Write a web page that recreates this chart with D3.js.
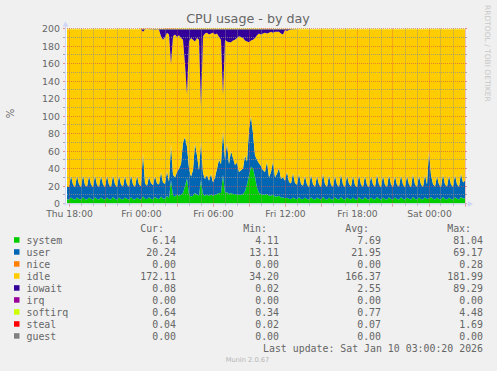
<!DOCTYPE html>
<html>
<head>
<meta charset="utf-8">
<script src="https://cdn.jsdelivr.net/npm/d3@7"></script>
<style>
  body { margin: 0; background: #f0f0f0; }
  svg { display: block; }
</style>
</head>
<body>
<div id="chart"></div>
<script>
// 10 minute samples, Thu Jan 8 2026 17:50 -> Sat Jan 10 03:00 (200 points)
const startTime = new Date(2026, 0, 8, 17, 50);
const stepMinutes = 10;

const system = [
  4.8,4.5,7.0,5.2,4.4,6.8, 5.1,4.5,7.2,5.0,4.6,6.9, 5.3,4.4,7.1,5.1,4.5,7.0,
  5.2,4.6,6.8,5.0,4.5,7.3, 5.2,4.4,7.0,5.1,4.6,6.9, 5.3,4.5,7.1,5.0,4.6,7.0,
  5.2,4.7,8.0,5.4,4.8,7.2, 5.5,5.0,7.5,5.6,5.2,8.0, 5.8,5.5,8.5,6.0,
  27,9,8,10,9,10, 12,20,29,10,8,9, 12,10,9,27,10,9, 10,9,10,9,10,11,
  12,12,33,12,13,11, 12,11,11,10,10,10, 11,14,22,32,42,40, 30,18,12,11,10,10,
  11,9,9,10,8,8, 9,7,7,6,
  6.5,5.5,5.0,7.0,5.4,5.0,7.2,5.2,4.8,
  7.0,5.2,4.5, 7.2,5.1,4.6, 6.9,5.3,4.5, 7.4,5.2,4.4, 7.0,5.0,4.6, 7.1,5.2,4.5,
  7.3,5.1,4.5, 6.9,5.3,4.6, 7.0,5.0,4.4, 7.2,5.2,4.5, 7.1,5.1,4.6, 6.8,5.2,4.5,
  7.3,5.3,4.4, 7.0,5.0,4.6, 7.2,5.2,4.5, 6.9,5.1,4.6, 7.1,5.2,4.5, 7.0,5.3,4.4,
  7.4,5.1,4.6, 7.0,5.2,4.5, 7.1,5.0,6.0, 7.2,5.3,4.6, 6.9,5.2,4.5, 7.3,5.1,4.6,
  7.0,5.2,4.5, 7.2,5.3,4.6, 7.5,5.6,6.1
];

const user = [
  14.2,14.5,25.0,16.5,14.6,24.5, 16.8,14.3,25.5,16.2,14.8,24.8, 16.6,14.5,25.2,16.4,14.7,24.6,
  16.9,14.4,25.3,16.3,14.6,24.9, 16.7,14.5,25.1,16.5,14.8,24.7, 16.4,14.6,25.4,16.8,14.5,24.8,
  16.6,15.0,50.0,17.5,15.5,23.5, 17.8,16.0,24.0,17.5,16.5,28.0, 18.0,17.0,28.5,19.0,
  41,24,22,26,31,35, 58,56,36,30,23,29, 57,45,29,44,25,19, 23,17,24,15,20,29,
  38,33,51,38,56,34, 48,41,33,37,26,28, 29,41,26,53,58,40, 25,32,34,32,28,26,
  37,21,27,38,22,26, 32,21,23,20,
  30,19,18,28,18,16.5,27,17,15.5,
  25.0,16.5,14.5, 26.0,16.8,14.6, 24.5,16.4,14.4, 27.0,16.7,14.7, 25.5,16.3,14.5, 24.8,16.6,14.6,
  26.5,16.5,14.3, 25.2,16.9,14.8, 24.6,16.2,14.5, 25.8,16.6,14.6, 25.0,16.4,14.4, 24.7,16.7,14.7,
  26.2,16.5,14.5, 25.1,16.3,14.6, 25.6,16.8,14.4, 24.9,16.4,14.7, 25.3,16.6,14.5, 24.8,16.5,14.6,
  26.4,16.7,14.5, 25.0,16.4,14.6, 25.4,16.6,55.0, 25.2,17.0,14.8, 24.6,16.5,14.5, 26.0,16.6,14.7,
  25.1,16.4,14.6, 25.7,16.8,14.5, 27.0,18.5,20.2
];

const idle = [
  180.1,180.1,167.1,177.4,180.1,167.8, 177.2,180.3,166.4,177.9,179.7,167.4, 177.2,180.2,166.8,177.6,179.9,167.5,
  177.0,180.1,167.0,177.8,180.0,166.9, 177.2,180.2,167.0,177.5,179.7,167.5, 177.4,180.0,166.6,177.3,180.0,167.3,
  177.3,179.4,138.2,176.1,178.8,168.2, 175.7,177.9,167.2,175.7,176.9,155.2, 163.4,167.7,158.2,168.2,
  91.2,158.2,163.2,154.2,152.2,144.2, 117.2,83.2,59.2,145.2,158.2,149.2, 116.2,134.2,149.2,39.2,156.2,166.2,
  162.2,167.2,160.2,171.2,163.2,154.2, 140.2,142.2,39.2,137.2,116.2,139.2, 124.2,134.2,143.2,142.2,155.2,152.2,
  149.2,131.2,137.2,99.2,86.2,107.2, 134.2,142.2,148.2,150.2,156.2,159.2, 146.2,165.2,160.2,147.2,166.2,162.2,
  155.2,166.2,163.2,172.2,
  160.7,173.7,175.7,163.9,175.6,177.6,164.9,176.9,178.8,
  167.1,177.4,180.1, 165.9,177.2,179.9, 167.7,177.4,180.2, 164.7,177.2,180.0, 166.6,177.8,180.0, 167.2,177.3,180.0,
  165.3,177.5,180.3, 167.0,176.9,179.7, 167.5,177.9,180.2, 166.1,177.3,180.0, 167.0,177.6,180.1, 167.6,177.2,179.9,
  165.6,177.3,180.2, 167.0,177.8,179.9, 166.3,177.1,180.2, 167.3,177.6,179.8, 166.7,177.3,180.1, 167.3,177.3,180.1,
  165.3,177.3,180.0, 167.1,177.5,180.0, 166.6,177.5,138.1, 166.7,176.8,179.7, 167.6,177.4,180.1, 165.8,177.4,179.8,
  167.0,177.5,180.0, 166.2,177.0,180.0, 164.6,175.0,172.8
];

const iowait = [
  0.1,0.1,0.1,0.1,0.1,0.1, 0.1,0.1,0.1,0.1,0.1,0.1, 0.1,0.1,0.1,0.1,0.1,0.1,
  0.1,0.1,0.1,0.1,0.1,0.1, 0.1,0.1,0.1,0.1,0.1,0.1, 0.1,0.1,0.1,0.1,0.1,0.1,
  0.1,0.1,3,0.2,0.1,0.3, 0.2,0.3,0.5,0.4,0.6,8, 12,9,4,6,
  40,8,6,9,7,10, 12,40,75,14,10,12, 14,10,12,89,8,5, 4,6,5,4,6,5,
  9,12,76,12,14,15, 15,13,12,10,8,9, 10,13,14,15,13,12, 10,7,5,6,5,4,
  5,4,3,4,3,3, 3,5,6,1,
  2,1,0.5,0.3,0.2,0.1,0.1,0.1,0.1,
  0.1,0.1,0.1, 0.1,0.1,0.1, 0.1,0.1,0.1, 0.1,0.1,0.1, 0.1,0.1,0.1, 0.1,0.1,0.1,
  0.1,0.1,0.1, 0.1,0.1,0.1, 0.1,0.1,0.1, 0.1,0.1,0.1, 0.1,0.1,0.1, 0.1,0.1,0.1,
  0.1,0.1,0.1, 0.1,0.1,0.1, 0.1,0.1,0.1, 0.1,0.1,0.1, 0.1,0.1,0.1, 0.1,0.1,0.1,
  0.1,0.1,0.1, 0.1,0.1,0.1, 0.1,0.1,0.1, 0.1,0.1,0.1, 0.1,0.1,0.1, 0.1,0.1,0.1,
  0.1,0.1,0.1, 0.1,0.1,0.1, 0.1,0.1,0.1
];

// hourly samples, Thu 17:00 -> Sat 03:00
const hourStart = new Date(2026, 0, 8, 17, 0);
const softirq = [
  0.7,0.7,0.6,0.7,0.6,0.7,0.6,
  0.8,0.7,1.2,2.5,3.0,2.8,2.2,2.6,1.8,1.5,0.9,0.8,0.7,0.7,0.6,0.7,0.6,0.7,0.6,0.7,0.6,0.6,0.7,0.6,
  0.7,0.6,0.7,0.6
];
const steal = [
  0.3,0.2,0.05,0.05,0.05,0.1,0.05,
  0.2,0.05,0.1,0.3,0.4,0.3,0.3,0.2,0.2,0.1,0.05,0.05,0.05,0.05,0.05,0.05,0.05,0.05,0.05,0.05,0.05,0.05,0.05,0.05,
  0.05,0.05,0.05,0.04
];

const legendNames = ["system", "user", "nice", "idle", "iowait", "irq", "softirq", "steal", "guest"];
const legendColors = ["#00CC00", "#0066B3", "#FF8000", "#FFCC00", "#330099", "#990099", "#CCFF00", "#FF0000", "#808080"];
const curValues = [6.14, 20.24, 0.00, 172.11, 0.08, 0.00, 0.64, 0.04, 0.00];
const minValues = [4.11, 13.11, 0.00, 34.20, 0.02, 0.00, 0.34, 0.02, 0.00];
const avgValues = [7.69, 21.95, 0.00, 166.37, 2.55, 0.00, 0.77, 0.07, 0.00];
const maxValues = [81.04, 69.17, 0.28, 181.99, 89.29, 0.00, 4.48, 1.69, 0.00];

const yTicks = [0, 20, 40, 60, 80, 100, 120, 140, 160, 180, 200];
const yMinor = [10, 30, 50, 70, 90, 110, 130, 150, 170, 190];

const width = 497, height = 371;
const plotLeft = 65, plotRight = 465, plotTop = 28.5, plotBottom = 203.5;
const fontSans = "'DejaVu Sans', sans-serif";
const fontMono = "'DejaVu Sans Mono', monospace";
const textColor = "#666666";
const axisColor = "#CFD6F8";
const gridColor = "rgba(143,143,143,0.75)";
const mgridColor = "rgba(222,79,79,0.6)";

const svg = d3.select("#chart").append("svg")
    .attr("width", width)
    .attr("height", height);

svg.append("rect").attr("width", width).attr("height", height).attr("fill", "#F0F0F0");

const x = d3.scaleTime()
    .domain([new Date(2026, 0, 8, 17, 40), new Date(2026, 0, 10, 3, 0)])
    .range([plotLeft, plotRight]);
const y = d3.scaleLinear().domain([0, 200]).range([plotBottom, plotTop]);
// snap a grid coordinate to a pixel centre
const px = v => Math.round(v - 0.5) + 0.5;

// one table row per sample, hourly series looked up by hour
const rows = system.map(function (s, i) {
    const t = d3.timeMinute.offset(startTime, i * stepMinutes);
    const h = d3.timeHour.count(hourStart, t);
    return {t: t, system: s, user: user[i], idle: idle[i], iowait: iowait[i],
            softirq: softirq[h], steal: steal[h]};
});
const keys = ["system", "user", "idle", "iowait", "softirq", "steal"];
const colorOf = {};
legendNames.forEach((n, i) => colorOf[n] = legendColors[i]);
const series = d3.stack().keys(keys)(rows);

svg.append("defs").append("clipPath").attr("id", "plot")
    .append("rect").attr("x", plotLeft).attr("y", plotTop)
    .attr("width", plotRight - plotLeft).attr("height", plotBottom - plotTop);

svg.append("rect").attr("x", plotLeft).attr("y", plotTop)
    .attr("width", plotRight - plotLeft).attr("height", plotBottom - plotTop).attr("fill", "#fff");

const area = d3.area()
    .x(d => x(d.data.t))
    .y0(d => y(d[0]))
    .y1(d => y(d[1]));

svg.append("g").attr("clip-path", "url(#plot)")
    .selectAll("path")
    .data(series)
    .enter().append("path")
    .attr("d", area)
    .attr("fill", d => colorOf[d.key]);

// grid
const grid = svg.append("g").attr("stroke-width", 1);
const hours = x.ticks(d3.timeHour.every(1));
const majorHours = x.ticks(d3.timeHour.every(3)).map(d => +d);

grid.selectAll(".vgrid")
    .data(hours)
    .enter().append("line")
    .attr("x1", d => px(x(d))).attr("x2", d => px(x(d)))
    .attr("y1", plotTop).attr("y2", plotBottom)
    .attr("stroke", d => majorHours.includes(+d) ? mgridColor : gridColor)
    .attr("stroke-dasharray", "1,1");

grid.selectAll(".hgrid")
    .data(yMinor.concat(yTicks.slice(1)))
    .enter().append("line")
    .attr("x1", plotLeft).attr("x2", plotRight)
    .attr("y1", d => px(y(d))).attr("y2", d => px(y(d)))
    .attr("stroke", d => d % 20 === 0 ? mgridColor : gridColor)
    .attr("stroke-dasharray", "1,1");

// small ticks outside the plot
grid.selectAll(".ytick")
    .data(yMinor.concat(yTicks))
    .enter().append("path")
    .attr("d", d => `M${plotLeft - 2},${px(y(d))}H${plotLeft}M${plotRight},${px(y(d))}H${plotRight + 2}`)
    .attr("stroke", d => d % 20 === 0 ? mgridColor : gridColor);

grid.selectAll(".xtick")
    .data(hours)
    .enter().append("line")
    .attr("x1", d => px(x(d))).attr("x2", d => px(x(d)))
    .attr("y1", plotBottom).attr("y2", d => majorHours.includes(+d) ? plotBottom + 3 : plotBottom + 2)
    .attr("stroke", d => majorHours.includes(+d) ? mgridColor : gridColor);

// axes with arrows
svg.append("line").attr("x1", plotLeft - 2).attr("x2", plotRight + 4)
    .attr("y1", plotBottom + 0.5).attr("y2", plotBottom + 0.5)
    .attr("stroke", axisColor);
svg.append("line").attr("x1", plotLeft + 0.5).attr("x2", plotLeft + 0.5)
    .attr("y1", plotBottom + 2).attr("y2", plotTop - 3)
    .attr("stroke", axisColor);
svg.append("path")
    .attr("d", `M${plotRight + 3},${plotBottom - 2.5}L${plotRight + 8},${plotBottom + 0.5}L${plotRight + 3},${plotBottom + 3.5}Z`)
    .attr("fill", axisColor);
svg.append("path")
    .attr("d", `M${plotLeft - 2.5},${plotTop - 2}L${plotLeft + 0.5},${plotTop - 7}L${plotLeft + 3.5},${plotTop - 2}Z`)
    .attr("fill", axisColor);

// axis labels
const yAxis = svg.append("g")
    .attr("transform", `translate(${plotLeft},0)`)
    .call(d3.axisLeft(y).tickValues(yTicks).tickSize(0).tickPadding(5));
yAxis.select(".domain").remove();
yAxis.selectAll("text").attr("font-family", fontSans).attr("font-size", "9.4px").attr("fill", textColor);

const xAxis = svg.append("g")
    .attr("transform", `translate(0,${plotBottom})`)
    .call(d3.axisBottom(x).ticks(d3.timeHour.every(6)).tickFormat(d3.timeFormat("%a %H:%M")).tickSize(0).tickPadding(6.5));
xAxis.select(".domain").remove();
xAxis.selectAll("text").attr("font-family", fontSans).attr("font-size", "9.2px").attr("fill", textColor);

svg.append("text")
    .attr("x", 248).attr("y", 23.3)
    .attr("text-anchor", "middle")
    .attr("font-family", fontSans).attr("font-size", "12.7px").attr("fill", textColor)
    .text("CPU usage - by day");

svg.append("text")
    .attr("transform", "translate(14,113.5) rotate(-90)")
    .attr("text-anchor", "middle")
    .attr("font-family", fontSans).attr("font-size", "10px").attr("fill", textColor)
    .text("%");

svg.append("text")
    .attr("transform", "translate(484.5,5) rotate(90)")
    .attr("font-family", fontSans).attr("font-size", "7.5px").attr("fill", "#c8c8c8")
    .text("RRDTOOL / TOBI OETIKER");

// legend
const rowY = 243.5, rowStep = 12;
const colEnds = [176, 279, 381, 483];
const columns = [curValues, minValues, avgValues, maxValues];
const headers = ["Cur:", "Min:", "Avg:", "Max:"];

const legend = svg.append("g")
    .attr("font-family", fontMono).attr("font-size", "9.9px").attr("fill", textColor);

legend.selectAll(".hdr")
    .data(headers)
    .enter().append("text")
    .attr("x", (d, i) => colEnds[i] - 12).attr("y", rowY - rowStep)
    .attr("text-anchor", "end")
    .text(d => d);

const entry = legend.selectAll(".entry")
    .data(legendNames)
    .enter().append("g")
    .attr("transform", (d, i) => `translate(0,${rowY + i * rowStep})`);

entry.append("rect")
    .attr("x", 14).attr("y", -6.3).attr("width", 5.5).attr("height", 5.5)
    .attr("fill", (d, i) => legendColors[i]);
entry.append("text").attr("x", 26.5).attr("y", 0).text(d => d);

columns.forEach(function (col, c) {
    entry.append("text")
        .attr("x", colEnds[c]).attr("y", 0)
        .attr("text-anchor", "end")
        .text((d, i) => col[i].toFixed(2));
});

legend.append("text")
    .attr("x", 483).attr("y", rowY + 9 * rowStep)
    .attr("text-anchor", "end")
    .text("Last update: Sat Jan 10 03:00:20 2026");

svg.append("text")
    .attr("x", 247.5).attr("y", 362.3)
    .attr("text-anchor", "middle")
    .attr("font-family", fontSans).attr("font-size", "6.7px").attr("fill", "#b4b4b4")
    .text("Munin 2.0.67");
</script>
</body>
</html>
